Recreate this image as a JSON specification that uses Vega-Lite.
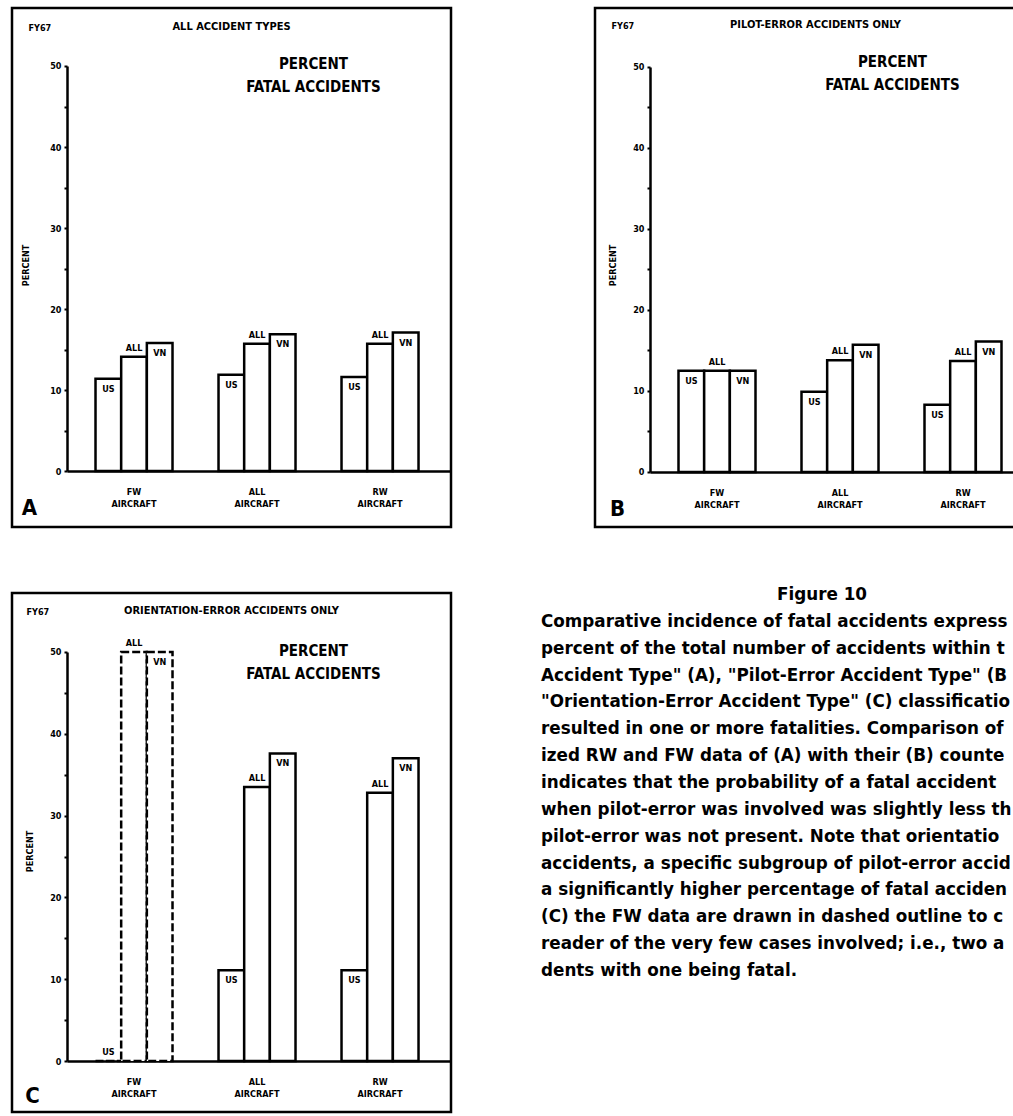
{
  "$schema": "https://vega.github.io/schema/vega-lite/v6.json",
  "autosize": {"type": "pad"},
  "padding": {"top": 6, "left": 10, "right": 0, "bottom": 0},
  "background": "white",
  "config": {
    "view": {"stroke": "black", "strokeWidth": 2.5},
    "concat": {"spacing": 0}
  },
  "datasets": {
    "bars": [
      {"panel": "A", "group": "FW AIRCRAFT", "type": "US", "value": 11.4},
      {"panel": "A", "group": "FW AIRCRAFT", "type": "ALL", "value": 14.1},
      {"panel": "A", "group": "FW AIRCRAFT", "type": "VN", "value": 15.8},
      {"panel": "A", "group": "ALL AIRCRAFT", "type": "US", "value": 11.9},
      {"panel": "A", "group": "ALL AIRCRAFT", "type": "ALL", "value": 15.7},
      {"panel": "A", "group": "ALL AIRCRAFT", "type": "VN", "value": 16.9},
      {"panel": "A", "group": "RW AIRCRAFT", "type": "US", "value": 11.6},
      {"panel": "A", "group": "RW AIRCRAFT", "type": "ALL", "value": 15.7},
      {"panel": "A", "group": "RW AIRCRAFT", "type": "VN", "value": 17.1},
      {"panel": "B", "group": "FW AIRCRAFT", "type": "US", "value": 12.5},
      {"panel": "B", "group": "FW AIRCRAFT", "type": "ALL", "value": 12.5},
      {"panel": "B", "group": "FW AIRCRAFT", "type": "VN", "value": 12.5},
      {"panel": "B", "group": "ALL AIRCRAFT", "type": "US", "value": 9.9},
      {"panel": "B", "group": "ALL AIRCRAFT", "type": "ALL", "value": 13.8},
      {"panel": "B", "group": "ALL AIRCRAFT", "type": "VN", "value": 15.7},
      {"panel": "B", "group": "RW AIRCRAFT", "type": "US", "value": 8.3},
      {"panel": "B", "group": "RW AIRCRAFT", "type": "ALL", "value": 13.7},
      {"panel": "B", "group": "RW AIRCRAFT", "type": "VN", "value": 16.1},
      {"panel": "C", "group": "FW AIRCRAFT", "type": "US", "value": 0},
      {"panel": "C", "group": "FW AIRCRAFT", "type": "ALL", "value": 50},
      {"panel": "C", "group": "FW AIRCRAFT", "type": "VN", "value": 50},
      {"panel": "C", "group": "ALL AIRCRAFT", "type": "US", "value": 11.1},
      {"panel": "C", "group": "ALL AIRCRAFT", "type": "ALL", "value": 33.5},
      {"panel": "C", "group": "ALL AIRCRAFT", "type": "VN", "value": 37.6},
      {"panel": "C", "group": "RW AIRCRAFT", "type": "US", "value": 11.1},
      {"panel": "C", "group": "RW AIRCRAFT", "type": "ALL", "value": 32.8},
      {"panel": "C", "group": "RW AIRCRAFT", "type": "VN", "value": 37.0}
    ],
    "caption": [
      {"line": 0, "text": "Figure  10"},
      {"line": 1, "text": "Comparative incidence of fatal accidents expressed as"},
      {"line": 2, "text": "percent of the total number of accidents within the \"All"},
      {"line": 3, "text": "Accident Type\" (A), \"Pilot-Error Accident Type\" (B), and"},
      {"line": 4, "text": "\"Orientation-Error Accident Type\" (C) classifications that"},
      {"line": 5, "text": "resulted in one or more fatalities.  Comparison of the"},
      {"line": 6, "text": "ized RW and FW data of (A) with their (B) counterparts"},
      {"line": 7, "text": "indicates that the probability of a fatal accident when"},
      {"line": 8, "text": "when pilot-error was involved was slightly less than when"},
      {"line": 9, "text": "pilot-error was not present.  Note that orientation-error"},
      {"line": 10, "text": "accidents, a specific subgroup of pilot-error accidents,"},
      {"line": 11, "text": "a significantly higher percentage of fatal accidents.  In"},
      {"line": 12, "text": "(C) the FW data are drawn in dashed outline to caution the"},
      {"line": 13, "text": "reader of the very few cases involved; i.e., two acci-"},
      {"line": 14, "text": "dents with one being fatal."}
    ]
  },
  "vconcat": [
    {
      "hconcat": [
        {
          "width": 439,
          "height": 519,
          "data": {"name": "bars"},
          "transform": [{"filter": "datum.panel == 'A'"}],
          "title": {"text": "ALL ACCIDENT TYPES", "anchor": "middle", "offset": -30, "baseline": "middle", "font": "DejaVu Sans Condensed, DejaVu Sans, sans-serif", "fontSize": 11, "fontWeight": "bold", "color": "black"},
          "layer": [
            {
              "mark": {"type": "bar", "fill": "white", "stroke": "black", "strokeWidth": 2.5},
              "encoding": {
                "x": {"field": "group", "type": "nominal", "sort": ["FW AIRCRAFT", "ALL AIRCRAFT", "RW AIRCRAFT"],
                  "scale": {"paddingInner": 0.374, "paddingOuter": 0.4715, "align": 0.72},
                  "axis": {"orient": "bottom", "offset": -56, "title": "A", "titleX": 17, "titleY": 36, "titleAlign": "center", "titleBaseline": "middle", "titleFont": "DejaVu Sans Condensed, DejaVu Sans, sans-serif", "titleFontSize": 22, "titleFontWeight": "bold", "titleColor": "black",
                    "domainColor": "black", "domainWidth": 2.5, "domainDash": [0, 55, 2000], "ticks": false, "labelAngle": 0, "labelExpr": "split(datum.label, ' ')", "labelFont": "DejaVu Sans Condensed, DejaVu Sans, sans-serif", "labelFontSize": 9, "labelFontWeight": "bold", "labelColor": "black", "labelPadding": 16, "labelLineHeight": 12, "labelBaseline": "top"}},
                "xOffset": {"field": "type", "type": "nominal", "sort": ["US", "ALL", "VN"], "scale": {"paddingInner": 0, "paddingOuter": 0}},
                "y": {"field": "value", "type": "quantitative", "scale": {"domain": [-6.91, 57.16], "nice": false, "zero": false},
                  "axis": {"orient": "left", "offset": -55, "values": [0, 5, 10, 15, 20, 25, 30, 35, 40, 45, 50], "labelExpr": "datum.value % 10 == 0 ? datum.label : ''", "labelOverlap": false, "grid": false,
                    "title": "PERCENT", "titleX": -42, "titleY": 257, "titleAngle": -90, "titleAlign": "center", "titleBaseline": "middle", "titleFont": "DejaVu Sans Condensed, DejaVu Sans, sans-serif", "titleFontSize": 9, "titleFontWeight": "bold", "titleColor": "black",
                    "domainColor": "black", "domainWidth": 2.5, "domainDash": [0, 56, 405, 2000], "tickColor": "black", "tickSize": 3, "tickWidth": 2, "labelPadding": 3, "labelFont": "DejaVu Sans Condensed, DejaVu Sans, sans-serif", "labelFontSize": 9, "labelFontWeight": "bold", "labelColor": "black"}},
                "y2": {"datum": 0}
              }
            },
            {
              "transform": [{"filter": "datum.type != 'ALL' && datum.value >= 3"}],
              "mark": {"type": "text", "baseline": "top", "dy": 6, "font": "DejaVu Sans Condensed, DejaVu Sans, sans-serif", "fontSize": 9, "fontWeight": "bold", "color": "black"},
              "encoding": {
                "x": {"field": "group", "type": "nominal", "sort": ["FW AIRCRAFT", "ALL AIRCRAFT", "RW AIRCRAFT"],
                  "axis": {"orient": "top", "title": "FY67", "titleX": 16, "titleY": 19, "titleAlign": "left", "titleBaseline": "middle", "titleFont": "DejaVu Sans Condensed, DejaVu Sans, sans-serif", "titleFontSize": 9, "titleFontWeight": "bold", "titleColor": "black", "domain": false, "ticks": false, "labels": false}},
                "xOffset": {"field": "type", "type": "nominal", "sort": ["US", "ALL", "VN"]},
                "y": {"field": "value", "type": "quantitative",
                  "axis": {"orient": "right", "title": ["PERCENT", "FATAL ACCIDENTS"], "titleAngle": 0, "titleX": -138, "titleY": 48, "titleAlign": "center", "titleBaseline": "top", "titleLineHeight": 23, "titleFont": "DejaVu Sans Condensed, DejaVu Sans, sans-serif", "titleFontSize": 15, "titleFontWeight": "bold", "titleColor": "black", "domain": false, "ticks": false, "labels": false, "grid": false}},
                "text": {"field": "type"}
              }
            },
            {
              "transform": [{"filter": "datum.type == 'ALL' || datum.value < 3"}],
              "mark": {"type": "text", "baseline": "bottom", "dy": -4, "font": "DejaVu Sans Condensed, DejaVu Sans, sans-serif", "fontSize": 9, "fontWeight": "bold", "color": "black"},
              "encoding": {
                "x": {"field": "group", "type": "nominal", "sort": ["FW AIRCRAFT", "ALL AIRCRAFT", "RW AIRCRAFT"], "axis": null},
                "xOffset": {"field": "type", "type": "nominal", "sort": ["US", "ALL", "VN"]},
                "y": {"field": "value", "type": "quantitative", "axis": null},
                "text": {"field": "type"}
              }
            }
          ],
          "resolve": {"axis": {"x": "independent", "y": "independent"}}
        },
        {
          "width": 423,
          "height": 519,
          "data": {"name": "bars"},
          "transform": [{"filter": "datum.panel == 'B'"}],
          "title": {"text": "PILOT-ERROR ACCIDENTS ONLY", "anchor": "middle", "offset": -28, "dx": 9, "baseline": "middle", "font": "DejaVu Sans Condensed, DejaVu Sans, sans-serif", "fontSize": 11, "fontWeight": "bold", "color": "black"},
          "layer": [
            {
              "mark": {"type": "bar", "fill": "white", "stroke": "black", "strokeWidth": 2.5},
              "encoding": {
                "x": {"field": "group", "type": "nominal", "sort": ["FW AIRCRAFT", "ALL AIRCRAFT", "RW AIRCRAFT"],
                  "scale": {"paddingInner": 0.374, "paddingOuter": 0.4065, "align": 0.835},
                  "axis": {"orient": "bottom", "offset": -55, "title": "B", "titleX": 22, "titleY": 36, "titleAlign": "center", "titleBaseline": "middle", "titleFont": "DejaVu Sans Condensed, DejaVu Sans, sans-serif", "titleFontSize": 22, "titleFontWeight": "bold", "titleColor": "black",
                    "domainColor": "black", "domainWidth": 2.5, "domainDash": [0, 55, 2000], "ticks": false, "labelAngle": 0, "labelExpr": "split(datum.label, ' ')", "labelFont": "DejaVu Sans Condensed, DejaVu Sans, sans-serif", "labelFontSize": 9, "labelFontWeight": "bold", "labelColor": "black", "labelPadding": 16, "labelLineHeight": 12, "labelBaseline": "top"}},
                "xOffset": {"field": "type", "type": "nominal", "sort": ["US", "ALL", "VN"], "scale": {"paddingInner": 0, "paddingOuter": 0}},
                "y": {"field": "value", "type": "quantitative", "scale": {"domain": [-6.79, 57.28], "nice": false, "zero": false},
                  "axis": {"orient": "left", "offset": -55, "values": [0, 5, 10, 15, 20, 25, 30, 35, 40, 45, 50], "labelExpr": "datum.value % 10 == 0 ? datum.label : ''", "labelOverlap": false, "grid": false,
                    "title": "PERCENT", "titleX": -38, "titleY": 257, "titleAngle": -90, "titleAlign": "center", "titleBaseline": "middle", "titleFont": "DejaVu Sans Condensed, DejaVu Sans, sans-serif", "titleFontSize": 9, "titleFontWeight": "bold", "titleColor": "black",
                    "domainColor": "black", "domainWidth": 2.5, "domainDash": [0, 55, 405, 2000], "tickColor": "black", "tickSize": 3, "tickWidth": 2, "labelPadding": 3, "labelFont": "DejaVu Sans Condensed, DejaVu Sans, sans-serif", "labelFontSize": 9, "labelFontWeight": "bold", "labelColor": "black"}},
                "y2": {"datum": 0}
              }
            },
            {
              "transform": [{"filter": "datum.type != 'ALL' && datum.value >= 3"}],
              "mark": {"type": "text", "baseline": "top", "dy": 6, "font": "DejaVu Sans Condensed, DejaVu Sans, sans-serif", "fontSize": 9, "fontWeight": "bold", "color": "black"},
              "encoding": {
                "x": {"field": "group", "type": "nominal", "sort": ["FW AIRCRAFT", "ALL AIRCRAFT", "RW AIRCRAFT"],
                  "axis": {"orient": "top", "title": "FY67", "titleX": 16, "titleY": 17, "titleAlign": "left", "titleBaseline": "middle", "titleFont": "DejaVu Sans Condensed, DejaVu Sans, sans-serif", "titleFontSize": 9, "titleFontWeight": "bold", "titleColor": "black", "domain": false, "ticks": false, "labels": false}},
                "xOffset": {"field": "type", "type": "nominal", "sort": ["US", "ALL", "VN"]},
                "y": {"field": "value", "type": "quantitative",
                  "axis": {"orient": "right", "title": ["PERCENT", "FATAL ACCIDENTS"], "titleAngle": 0, "titleX": -126, "titleY": 46, "titleAlign": "center", "titleBaseline": "top", "titleLineHeight": 23, "titleFont": "DejaVu Sans Condensed, DejaVu Sans, sans-serif", "titleFontSize": 15, "titleFontWeight": "bold", "titleColor": "black", "domain": false, "ticks": false, "labels": false, "grid": false}},
                "text": {"field": "type"}
              }
            },
            {
              "transform": [{"filter": "datum.type == 'ALL' || datum.value < 3"}],
              "mark": {"type": "text", "baseline": "bottom", "dy": -4, "font": "DejaVu Sans Condensed, DejaVu Sans, sans-serif", "fontSize": 9, "fontWeight": "bold", "color": "black"},
              "encoding": {
                "x": {"field": "group", "type": "nominal", "sort": ["FW AIRCRAFT", "ALL AIRCRAFT", "RW AIRCRAFT"], "axis": null},
                "xOffset": {"field": "type", "type": "nominal", "sort": ["US", "ALL", "VN"]},
                "y": {"field": "value", "type": "quantitative", "axis": null},
                "text": {"field": "type"}
              }
            }
          ],
          "resolve": {"axis": {"x": "independent", "y": "independent"}}
        }
      ],
      "spacing": 140
    },
    {
      "hconcat": [
        {
          "width": 439,
          "height": 519,
          "data": {"name": "bars"},
          "transform": [{"filter": "datum.panel == 'C'"}],
          "title": {"text": "ORIENTATION-ERROR ACCIDENTS ONLY", "anchor": "middle", "offset": -29, "baseline": "middle", "font": "DejaVu Sans Condensed, DejaVu Sans, sans-serif", "fontSize": 11, "fontWeight": "bold", "color": "black"},
          "layer": [
            {
              "mark": {"type": "bar", "fill": "white", "stroke": "black", "strokeWidth": 2.5},
              "encoding": {
                "x": {"field": "group", "type": "nominal", "sort": ["FW AIRCRAFT", "ALL AIRCRAFT", "RW AIRCRAFT"],
                  "scale": {"paddingInner": 0.374, "paddingOuter": 0.4715, "align": 0.72},
                  "axis": {"orient": "bottom", "offset": -51, "title": "C", "titleX": 20, "titleY": 34, "titleAlign": "center", "titleBaseline": "middle", "titleFont": "DejaVu Sans Condensed, DejaVu Sans, sans-serif", "titleFontSize": 22, "titleFontWeight": "bold", "titleColor": "black",
                    "domainColor": "black", "domainWidth": 2.5, "domainDash": [0, 55, 2000], "ticks": false, "labelAngle": 0, "labelExpr": "split(datum.label, ' ')", "labelFont": "DejaVu Sans Condensed, DejaVu Sans, sans-serif", "labelFontSize": 9, "labelFontWeight": "bold", "labelColor": "black", "labelPadding": 16, "labelLineHeight": 12, "labelBaseline": "top"}},
                "xOffset": {"field": "type", "type": "nominal", "sort": ["US", "ALL", "VN"], "scale": {"paddingInner": 0, "paddingOuter": 0}},
                "y": {"field": "value", "type": "quantitative", "scale": {"domain": [-6.23, 57.21], "nice": false, "zero": false},
                  "axis": {"orient": "left", "offset": -55, "values": [0, 5, 10, 15, 20, 25, 30, 35, 40, 45, 50], "labelExpr": "datum.value % 10 == 0 ? datum.label : ''", "labelOverlap": false, "grid": false,
                    "title": "PERCENT", "titleX": -38, "titleY": 258, "titleAngle": -90, "titleAlign": "center", "titleBaseline": "middle", "titleFont": "DejaVu Sans Condensed, DejaVu Sans, sans-serif", "titleFontSize": 9, "titleFontWeight": "bold", "titleColor": "black",
                    "domainColor": "black", "domainWidth": 2.5, "domainDash": [0, 51, 409, 2000], "tickColor": "black", "tickSize": 3, "tickWidth": 2, "labelPadding": 3, "labelFont": "DejaVu Sans Condensed, DejaVu Sans, sans-serif", "labelFontSize": 9, "labelFontWeight": "bold", "labelColor": "black"}},
                "y2": {"datum": 0},
                "strokeDash": {"condition": {"test": "datum.group == 'FW AIRCRAFT'", "value": [8, 3]}, "value": [1, 0]}
              }
            },
            {
              "transform": [{"filter": "datum.type != 'ALL' && datum.value >= 3"}],
              "mark": {"type": "text", "baseline": "top", "dy": 6, "font": "DejaVu Sans Condensed, DejaVu Sans, sans-serif", "fontSize": 9, "fontWeight": "bold", "color": "black"},
              "encoding": {
                "x": {"field": "group", "type": "nominal", "sort": ["FW AIRCRAFT", "ALL AIRCRAFT", "RW AIRCRAFT"],
                  "axis": {"orient": "top", "title": "FY67", "titleX": 14, "titleY": 18, "titleAlign": "left", "titleBaseline": "middle", "titleFont": "DejaVu Sans Condensed, DejaVu Sans, sans-serif", "titleFontSize": 9, "titleFontWeight": "bold", "titleColor": "black", "domain": false, "ticks": false, "labels": false}},
                "xOffset": {"field": "type", "type": "nominal", "sort": ["US", "ALL", "VN"]},
                "y": {"field": "value", "type": "quantitative",
                  "axis": {"orient": "right", "title": ["PERCENT", "FATAL ACCIDENTS"], "titleAngle": 0, "titleX": -138, "titleY": 50, "titleAlign": "center", "titleBaseline": "top", "titleLineHeight": 23, "titleFont": "DejaVu Sans Condensed, DejaVu Sans, sans-serif", "titleFontSize": 15, "titleFontWeight": "bold", "titleColor": "black", "domain": false, "ticks": false, "labels": false, "grid": false}},
                "text": {"field": "type"}
              }
            },
            {
              "transform": [{"filter": "datum.type == 'ALL' || datum.value < 3"}],
              "mark": {"type": "text", "baseline": "bottom", "dy": -4, "font": "DejaVu Sans Condensed, DejaVu Sans, sans-serif", "fontSize": 9, "fontWeight": "bold", "color": "black"},
              "encoding": {
                "x": {"field": "group", "type": "nominal", "sort": ["FW AIRCRAFT", "ALL AIRCRAFT", "RW AIRCRAFT"], "axis": null},
                "xOffset": {"field": "type", "type": "nominal", "sort": ["US", "ALL", "VN"]},
                "y": {"field": "value", "type": "quantitative", "axis": null},
                "text": {"field": "type"}
              }
            }
          ],
          "resolve": {"axis": {"x": "independent", "y": "independent"}}
        },
        {
          "width": 472,
          "height": 376,
          "view": {"stroke": null},
          "data": {"name": "caption"},
          "layer": [
            {
              "transform": [{"filter": "datum.line == 0"}],
              "mark": {"type": "text", "align": "center", "baseline": "middle", "dy": 2, "font": "DejaVu Sans, sans-serif", "fontSize": 16.8, "fontWeight": "bold", "color": "black"},
              "encoding": {
                "x": {"value": 281},
                "y": {"field": "line", "type": "ordinal", "scale": {"type": "point", "padding": 0, "domain": [0, 1, 2, 3, 4, 5, 6, 7, 8, 9, 10, 11, 12, 13, 14]}, "axis": null},
                "text": {"field": "text"}
              }
            },
            {
              "transform": [{"filter": "datum.line > 0"}],
              "mark": {"type": "text", "align": "left", "baseline": "middle", "dy": 2, "limit": 471, "ellipsis": "\u200b", "font": "DejaVu Sans, sans-serif", "fontSize": 16.8, "fontWeight": "bold", "color": "black"},
              "encoding": {
                "x": {"value": 0},
                "y": {"field": "line", "type": "ordinal", "axis": null},
                "text": {"field": "text"}
              }
            }
          ]
        }
      ],
      "spacing": 88
    }
  ],
  "spacing": 58
}
